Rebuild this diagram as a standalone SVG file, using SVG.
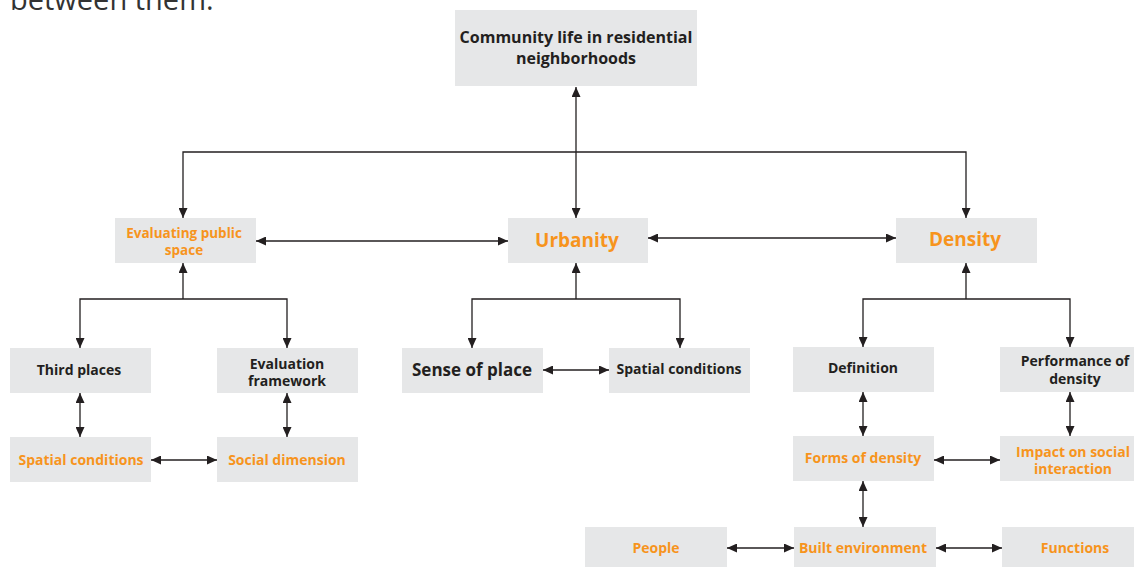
<svg xmlns="http://www.w3.org/2000/svg" width="1134" height="567" viewBox="0 0 1134 567">
  <defs>
    <marker id="head" viewBox="0 0 10 9" refX="10" refY="4.5" markerWidth="10" markerHeight="9" markerUnits="userSpaceOnUse" orient="auto-start-reverse">
      <path d="M0,0 L10,4.5 L0,9 z" fill="#231f20"/>
    </marker>
    <style>
      .box { fill: #e6e7e8; }
      .t { font-family: "Open Sans", "Noto Sans", "Liberation Sans", sans-serif; font-weight: bold; text-anchor: middle; }
      .dark { fill: #231f20; }
      .orange { fill: #f7941d; }
      .link { fill: none; stroke: #231f20; stroke-width: 1.3; marker-start: url(#head); marker-end: url(#head); }
      .up { fill: none; stroke: #231f20; stroke-width: 1.3; marker-start: url(#head); }
    </style>
  </defs>

  <rect width="1134" height="567" fill="#ffffff"/>

  <!-- running text above the chart -->
  <text x="10" y="10" font-family="Open Sans, Noto Sans, sans-serif" font-size="29" fill="#333333">between them.</text>

  <!-- connectors -->
  <g id="connectors">
    <path class="link" d="M576,87 V218"/>
    <path class="link" d="M183,218 V152 H966 V218"/>
    <path class="link" d="M256,241 H508"/>
    <path class="link" d="M648,238 H896"/>

    <path class="up" d="M183,263 V299"/>
    <path class="link" d="M80,348 V299 H287 V348"/>
    <path class="up" d="M576,263 V299"/>
    <path class="link" d="M472,348 V299 H680 V348"/>
    <path class="up" d="M966,263 V299"/>
    <path class="link" d="M863,347 V299 H1070 V347"/>

    <path class="link" d="M80,393 V437"/>
    <path class="link" d="M287,393 V437"/>
    <path class="link" d="M151,460 H217"/>
    <path class="link" d="M543,370 H609"/>
    <path class="link" d="M863,392 V436"/>
    <path class="link" d="M1070,392 V436"/>
    <path class="link" d="M934,460 H1000"/>
    <path class="link" d="M863,481 V527"/>
    <path class="link" d="M727,548 H794"/>
    <path class="link" d="M936,548 H1002"/>
  </g>

  <!-- nodes -->
  <g id="community">
    <rect class="box" x="455" y="10" width="242" height="76"/>
    <text class="t dark" x="576" y="43" font-size="16">Community life in residential</text>
    <text class="t dark" x="576" y="64" font-size="16">neighborhoods</text>
  </g>
  <g id="evaluating">
    <rect class="box" x="115" y="218" width="141" height="45"/>
    <text class="t orange" x="184" y="238" font-size="13.5">Evaluating public</text>
    <text class="t orange" x="184" y="255" font-size="13.5">space</text>
  </g>
  <g id="urbanity">
    <rect class="box" x="508" y="218" width="140" height="45"/>
    <text class="t orange" x="577" y="247" font-size="19">Urbanity</text>
  </g>
  <g id="density">
    <rect class="box" x="896" y="218" width="141" height="45"/>
    <text class="t orange" x="965" y="246" font-size="19">Density</text>
  </g>
  <g id="third-places">
    <rect class="box" x="10" y="348" width="141" height="45"/>
    <text class="t dark" x="79" y="375" font-size="14">Third places</text>
  </g>
  <g id="evaluation-framework">
    <rect class="box" x="217" y="348" width="141" height="45"/>
    <text class="t dark" x="287" y="369" font-size="14">Evaluation</text>
    <text class="t dark" x="287" y="386" font-size="14">framework</text>
  </g>
  <g id="spatial-conditions-left">
    <rect class="box" x="10" y="437" width="141" height="45"/>
    <text class="t orange" x="81" y="465" font-size="14">Spatial conditions</text>
  </g>
  <g id="social-dimension">
    <rect class="box" x="217" y="437" width="141" height="45"/>
    <text class="t orange" x="287" y="465" font-size="14">Social dimension</text>
  </g>
  <g id="sense-of-place">
    <rect class="box" x="402" y="348" width="141" height="45"/>
    <text class="t dark" x="472" y="376" font-size="17">Sense of place</text>
  </g>
  <g id="spatial-conditions-mid">
    <rect class="box" x="609" y="348" width="141" height="45"/>
    <text class="t dark" x="679" y="374" font-size="14">Spatial conditions</text>
  </g>
  <g id="definition">
    <rect class="box" x="793" y="347" width="141" height="45"/>
    <text class="t dark" x="863" y="373" font-size="14">Definition</text>
  </g>
  <g id="performance">
    <rect class="box" x="1000" y="347" width="141" height="45"/>
    <text class="t dark" x="1075" y="366" font-size="14">Performance of</text>
    <text class="t dark" x="1075" y="384" font-size="14">density</text>
  </g>
  <g id="forms-of-density">
    <rect class="box" x="793" y="436" width="141" height="45"/>
    <text class="t orange" x="863" y="463" font-size="14">Forms of density</text>
  </g>
  <g id="impact">
    <rect class="box" x="1000" y="436" width="141" height="45"/>
    <text class="t orange" x="1073" y="457" font-size="14">Impact on social</text>
    <text class="t orange" x="1073" y="474" font-size="14">interaction</text>
  </g>
  <g id="people">
    <rect class="box" x="585" y="527" width="142" height="45"/>
    <text class="t orange" x="656" y="553" font-size="14">People</text>
  </g>
  <g id="built-environment">
    <rect class="box" x="794" y="527" width="142" height="45"/>
    <text class="t orange" x="863" y="553" font-size="14">Built environment</text>
  </g>
  <g id="functions">
    <rect class="box" x="1002" y="527" width="142" height="45"/>
    <text class="t orange" x="1075" y="553" font-size="14">Functions</text>
  </g>
</svg>
